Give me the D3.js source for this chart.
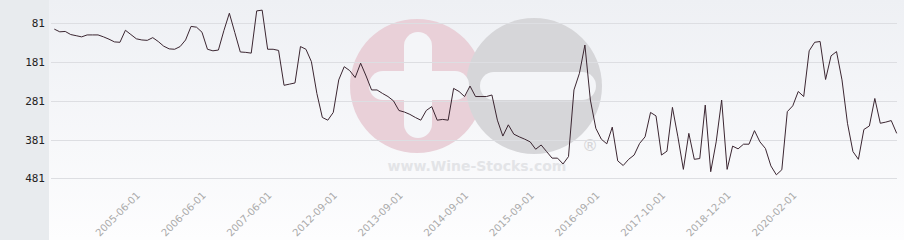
<!DOCTYPE html>
<html>
<head>
<meta charset="utf-8">
<script src="https://cdn.jsdelivr.net/npm/d3@7"></script>
<style>
  html, body { margin: 0; padding: 0; background: #fff; }
  svg { display: block; }
</style>
</head>
<body>
<div id="chart"></div>
<script>
"use strict";

// rank per sample (lower is better, axis is reversed)
const ranks = [
  96, 103, 102, 110, 113, 116, 111, 111, 111, 116,
  122, 129, 130, 99, 110, 121, 124, 125, 118, 128,
  140, 147, 148, 141, 124, 89, 91, 104, 148, 152,
  150, 100, 55, 105, 155, 156, 158, 49, 47, 148,
  148, 151, 241, 238, 235, 141, 148, 180, 262, 324,
  331, 311, 227, 193, 203, 221, 184, 217, 253, 253,
  262, 270, 281, 306, 310, 316, 324, 331, 306, 296,
  331, 329, 331, 249, 257, 270, 243, 270, 270, 270,
  266, 331, 372, 343, 367, 374, 380, 387, 406, 395,
  412, 429, 429, 444, 425, 253, 210, 137, 279, 352,
  380, 392, 349, 436, 448, 432, 421, 391, 374, 311,
  320, 421, 411, 298, 374, 458, 365, 432, 430, 292,
  464, 387, 279, 458, 398, 405, 393, 393, 358, 387,
  404, 449, 472, 459, 309, 294, 257, 270, 152, 130,
  128, 226, 165, 154, 227, 339, 412, 432, 355, 346,
  275, 339, 336, 332, 365
];

const tickLabels = [
  "2005-06-01", "2006-06-01", "2007-06-01", "2012-09-01", "2013-09-01",
  "2014-09-01", "2015-09-01", "2016-09-01", "2017-10-01", "2018-12-01",
  "2020-02-01"
];
const tickIndex = [15, 27, 39, 51, 63, 75, 87, 99, 111, 123, 135];

const yTicks = [81, 181, 281, 381, 481];

const width = 904;
const height = 240;
const panelWidth = 49;

const svg = d3.select("#chart")
  .append("svg")
  .attr("width", width)
  .attr("height", height)
;

const defs = svg.append("defs");
const grad = defs.append("linearGradient")
  .attr("id", "bg")
  .attr("x1", 0).attr("y1", 0)
  .attr("x2", 0).attr("y2", 1)
;
grad.append("stop").attr("offset", "0%").attr("stop-color", "#eef0f4");
grad.append("stop").attr("offset", "100%").attr("stop-color", "#fdfdfe");

svg.append("rect")
  .attr("x", panelWidth)
  .attr("y", 0)
  .attr("width", width - panelWidth)
  .attr("height", height)
  .attr("fill", "url(#bg)")
;
svg.append("rect")
  .attr("x", 0)
  .attr("y", 0)
  .attr("width", panelWidth)
  .attr("height", height)
  .attr("fill", "#e8ebee")
;

const xScale = d3.scaleLinear()
  .domain([0, ranks.length - 1])
  .range([54.3, 896.7])
;
const yScale = d3.scaleLinear()
  .domain([81, 481])
  .range([23.3, 178.3])
;

// watermark
const wm = svg.append("g").attr("class", "watermark");
wm.append("circle").attr("cx", 417).attr("cy", 86).attr("r", 67).attr("fill", "#e9d0d8");
wm.append("circle").attr("cx", 534).attr("cy", 86).attr("r", 68).attr("fill", "#d6d6d9");
wm.append("rect").attr("x", 404).attr("y", 32).attr("width", 28).attr("height", 106)
  .attr("rx", 14).attr("fill", "#f4f5f8");
wm.append("rect").attr("x", 369).attr("y", 71).attr("width", 100).attr("height", 29)
  .attr("rx", 14).attr("fill", "#f4f5f8");
wm.append("rect").attr("x", 480).attr("y", 72).attr("width", 116).attr("height", 28)
  .attr("rx", 14).attr("fill", "#f4f5f8");
wm.append("text")
  .attr("x", 477).attr("y", 171)
  .attr("text-anchor", "middle")
  .attr("font-family", "DejaVu Sans, sans-serif")
  .attr("font-weight", "bold")
  .attr("font-size", 14)
  .attr("fill", "#e3e4e7")
  .text("www.Wine-Stocks.com")
;
wm.append("text")
  .attr("x", 590).attr("y", 151)
  .attr("text-anchor", "middle")
  .attr("font-family", "DejaVu Sans, sans-serif")
  .attr("font-size", 16)
  .attr("fill", "#d4d4d7")
  .text("®")
;

// grid
svg.append("g")
  .selectAll("line")
  .data(yTicks)
  .enter()
  .append("line")
  .attr("x1", panelWidth + 2)
  .attr("x2", 897)
  .attr("y1", d => Math.round(yScale(d)) + 0.5)
  .attr("y2", d => Math.round(yScale(d)) + 0.5)
  .attr("stroke", "#dddee2")
  .attr("stroke-width", 1)
;

const yAxis = d3.axisLeft(yScale)
  .tickValues(yTicks)
  .tickSize(0)
  .tickPadding(0)
;
svg.append("g")
  .attr("id", "y-axis")
  .attr("transform", "translate(45, 0)")
  .call(yAxis)
  .call(g => g.select(".domain").remove())
  .call(g => g.selectAll("text")
    .attr("font-family", "DejaVu Sans Mono, monospace")
    .attr("font-size", 11)
    .attr("fill", "#222"))
;

const xAxis = d3.axisBottom(xScale)
  .tickValues(tickIndex)
  .tickFormat((d, i) => tickLabels[i])
  .tickSize(0)
;
svg.append("g")
  .attr("id", "x-axis")
  .attr("transform", "translate(0, 196)")
  .call(xAxis)
  .call(g => g.select(".domain").remove())
  .call(g => g.selectAll("text")
    .attr("font-family", "DejaVu Sans, sans-serif")
    .attr("font-size", 10)
    .attr("fill", "#aaa")
    .attr("text-anchor", "end")
    .attr("dy", 0)
    .attr("y", 0)
    .attr("transform", "translate(4, 0) rotate(-45)"))
;

const line = d3.line()
  .x((d, i) => xScale(i))
  .y(d => yScale(d))
;
svg.append("path")
  .datum(ranks)
  .attr("d", line)
  .attr("fill", "none")
  .attr("stroke", "#3b2631")
  .attr("stroke-width", 1)
  .attr("stroke-linejoin", "round")
;
</script>
</body>
</html>
